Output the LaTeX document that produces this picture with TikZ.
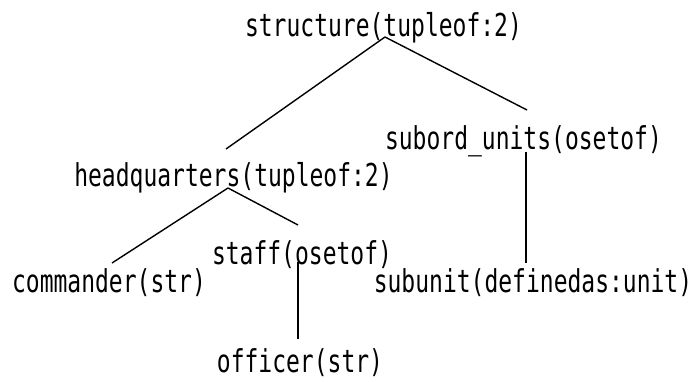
\documentclass[tikz,border=0pt]{standalone}
\usepackage{fontspec}
\newfontfamily\treefont[FakeStretch=0.73]{DejaVu Sans Mono}
\begin{document}
\begin{tikzpicture}[x=1pt,y=-1pt]
  \tikzset{
    field/.style={anchor=base,inner sep=0pt,font={\treefont\fontsize{31.5}{36}\selectfont}},
    branch/.style={line width=1.4pt}
  }
  \useasboundingbox (0,0) rectangle (694,382);
  % the fields, placed at their baselines
  \node[field] (structure) at (383.5,37) {structure(tupleof:2)};
  \node[field] (hq) at (233.5,187) {headquarters(tupleof:2)};
  \node[field] (subord) at (523.5,150) {subord\_units(osetof)};
  \node[field] (staff) at (302,265) {staff(osetof)};
  \node[field] (commander) at (109,293) {commander(str)};
  \node[field] (subunit) at (533,293) {subunit(definedas:unit)};
  \node[field] (officer) at (300,372) {officer(str)};
  % where the branches leave and reach the fields
  \coordinate (structure-fork) at ([shift={(1.5,0)}]structure.base);
  \coordinate (hq-fork) at ([shift={(-5.5,1)}]hq.base);
  \coordinate (hq-top) at ([shift={(-7.5,-38)}]hq.base);
  \coordinate (subord-top) at ([shift={(3.5,-40)}]subord.base);
  \coordinate (subord-foot) at ([shift={(2.5,2)}]subord.base);
  \coordinate (staff-top) at ([shift={(-4,-40)}]staff.base);
  \coordinate (staff-foot) at ([shift={(-4,-3)}]staff.base);
  \coordinate (commander-top) at ([shift={(3,-30)}]commander.base);
  \coordinate (subunit-top) at ([shift={(-7,-30)}]subunit.base);
  \coordinate (officer-top) at ([shift={(-2,-33)}]officer.base);
  % branches
  \draw[branch] (structure-fork) -- (hq-top);
  \draw[branch] (structure-fork) -- (subord-top);
  \draw[branch] (hq-fork) -- (commander-top);
  \draw[branch] (hq-fork) -- (staff-top);
  \draw[branch] (staff-foot) -- (officer-top);
  \draw[branch] (subord-foot) -- (subunit-top);
\end{tikzpicture}
\end{document}
